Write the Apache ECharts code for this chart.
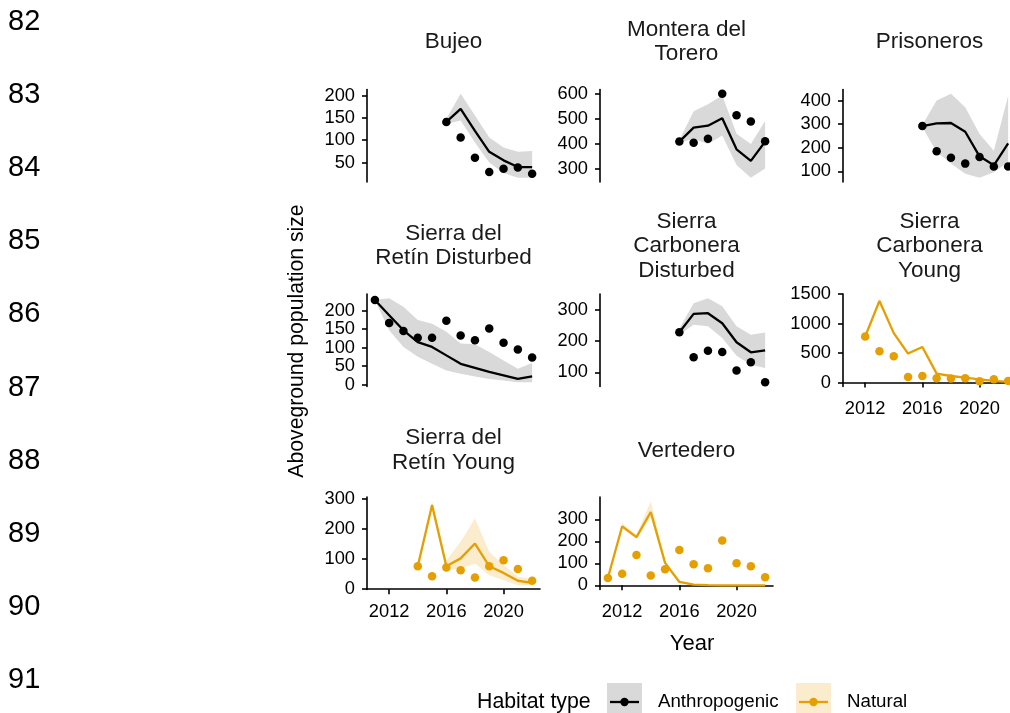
<!DOCTYPE html>
<html>
<head>
<meta charset="utf-8">
<script src="https://cdn.jsdelivr.net/npm/echarts@6/dist/echarts.min.js"></script>
<style>
  html, body { margin: 0; padding: 0; background: #ffffff; }
  #chart { width: 1010px; height: 713px; }
</style>
</head>
<body>
<div id="chart"></div>
<script>
// ---- data -------------------------------------------------------------
const years = [2011, 2012, 2013, 2014, 2015, 2016, 2017, 2018, 2019, 2020, 2021, 2022];
const yearTicks = [2012, 2016, 2020];
const lineNumbers = ['82', '83', '84', '85', '86', '87', '88', '89', '90', '91'];
const habitatTypes = ['Anthropogenic', 'Natural'];

// Bujeo (anthropogenic)
const bujeoObserved = [null, null, null, null, null, 141, 106, 61, 29, 36, 39, 25];
const bujeoFitted   = [null, null, null, null, null, 141, 170, 121, 74, 55, 40, 40];
const bujeoLower    = [null, null, null, null, null, 136, 144, 95, 50, 27, 16, 16];
const bujeoUpper    = [null, null, null, null, null, 148, 204, 155, 106, 84, 74, 76];
const bujeoTicks    = [50, 100, 150, 200];

// Montera del Torero (anthropogenic)
const monteraObserved = [null, null, null, null, null, 408, 403, 419, 600, 514, 489, 409];
const monteraFitted   = [null, null, null, null, null, 408, 464, 472, 502, 377, 331, 408];
const monteraLower    = [null, null, null, null, null, 403, 419, 398, 433, 314, 263, 300];
const monteraUpper    = [null, null, null, null, null, 413, 530, 558, 593, 440, 398, 491];
const monteraTicks    = [300, 400, 500, 600];

// Prisoneros (anthropogenic)
const prisonerosObserved = [null, null, null, null, null, 292, 185, 158, 133, 161, 121, 121];
const prisonerosFitted   = [null, null, null, null, null, 292, 303, 305, 268, 164, 126, 219];
const prisonerosLower    = [null, null, null, null, null, 287, 182, 133, 90, 73, 97, 140];
const prisonerosUpper    = [null, null, null, null, null, 297, 400, 429, 372, 258, 187, 420];
const prisonerosTicks    = [100, 200, 300, 400];

// Sierra del Retín Disturbed (anthropogenic)
const retinDistObserved = [229, 167, 145, 127, 127, 173, 133, 120, 152, 113, 95, 73];
const retinDistFitted   = [229, 188, 147, 115, 102, 79, 56, 45, 34, 25, 15, 22];
const retinDistLower    = [229, 147, 102, 75, 56, 38, 29, 22, 15, 11, 6, 6];
const retinDistUpper    = [229, 234, 211, 175, 165, 143, 111, 109, 88, 65, 43, 58];
const retinDistTicks    = [0, 50, 100, 150, 200];

// Sierra Carbonera Disturbed (anthropogenic)
const carbDistObserved = [null, null, null, null, null, 228, 148, 169, 165, 106, 132, 68];
const carbDistFitted   = [null, null, null, null, null, 228, 287, 289, 257, 196, 164, 170];
const carbDistLower    = [null, null, null, null, null, 220, 252, 247, 210, 153, 124, 114];
const carbDistUpper    = [null, null, null, null, null, 240, 321, 337, 311, 247, 220, 227];
const carbDistTicks    = [100, 200, 300];

// Sierra Carbonera Young (natural)
const carbYoungObserved = [null, 782, 530, 446, 94, 111, 72, 67, 72, 22, 55, 27];
const carbYoungFitted   = [null, 782, 1386, 839, 492, 604, 151, 111, 84, 55, 27, 10];
const carbYoungLower    = [null, 762, 1345, 815, 470, 585, 140, 100, 75, 45, 20, 4];
const carbYoungUpper    = [null, 802, 1432, 865, 515, 625, 162, 122, 94, 65, 35, 18];
const carbYoungTicks    = [0, 500, 1000, 1500];

// Sierra del Retín Young (natural)
const retinYoungObserved = [null, null, null, 76, 43, 72, 63, 39, 76, 96, 67, 28];
const retinYoungFitted   = [null, null, null, 76, 278, 76, 102, 151, 76, 54, 28, 21];
const retinYoungLower    = [null, null, null, 75, 272, 63, 68, 85, 46, 30, 13, 13];
const retinYoungUpper    = [null, null, null, 77, 291, 96, 157, 234, 124, 80, 41, 35];
const retinYoungTicks    = [0, 100, 200, 300];

// Vertedero (natural)
const vertederoObserved = [33, 52, 138, 45, 73, 160, 96, 78, 203, 100, 86, 37];
const vertederoFitted   = [33, 268, 219, 333, 102, 15, 3, 1, 0, 0, 0, 0];
const vertederoLower    = [29, 258, 210, 308, 94, 10, 1, 0, 0, 0, 0, 0];
const vertederoUpper    = [37, 282, 230, 382, 113, 21, 6, 2, 1, 1, 1, 1];
const vertederoTicks    = [0, 100, 200, 300];

// ---- panels -------------------------------------------------------------
const panels = [
  { title: 'Bujeo', habitat: 'Anthropogenic', col: 0, row: 0, showX: false,
    obs: bujeoObserved, fit: bujeoFitted, lo: bujeoLower, hi: bujeoUpper, ticks: bujeoTicks },
  { title: 'Montera del\nTorero', habitat: 'Anthropogenic', col: 1, row: 0, showX: false,
    obs: monteraObserved, fit: monteraFitted, lo: monteraLower, hi: monteraUpper, ticks: monteraTicks },
  { title: 'Prisoneros', habitat: 'Anthropogenic', col: 2, row: 0, showX: false,
    obs: prisonerosObserved, fit: prisonerosFitted, lo: prisonerosLower, hi: prisonerosUpper, ticks: prisonerosTicks },
  { title: 'Sierra del\nRetín Disturbed', habitat: 'Anthropogenic', col: 0, row: 1, showX: false,
    obs: retinDistObserved, fit: retinDistFitted, lo: retinDistLower, hi: retinDistUpper, ticks: retinDistTicks },
  { title: 'Sierra\nCarbonera\nDisturbed', habitat: 'Anthropogenic', col: 1, row: 1, showX: false,
    obs: carbDistObserved, fit: carbDistFitted, lo: carbDistLower, hi: carbDistUpper, ticks: carbDistTicks },
  { title: 'Sierra\nCarbonera\nYoung', habitat: 'Natural', col: 2, row: 1, showX: true,
    obs: carbYoungObserved, fit: carbYoungFitted, lo: carbYoungLower, hi: carbYoungUpper, ticks: carbYoungTicks },
  { title: 'Sierra del\nRetín Young', habitat: 'Natural', col: 0, row: 2, showX: true,
    obs: retinYoungObserved, fit: retinYoungFitted, lo: retinYoungLower, hi: retinYoungUpper, ticks: retinYoungTicks },
  { title: 'Vertedero', habitat: 'Natural', col: 1, row: 2, showX: true,
    obs: vertederoObserved, fit: vertederoFitted, lo: vertederoLower, hi: vertederoUpper, ticks: vertederoTicks }
];

// ---- layout & style -----------------------------------------------------
const FONT = "'Liberation Sans', Arial, Helvetica, sans-serif";
const colLeft = [367, 600, 843];
const rowTop = [89.5, 294, 497];
const stripMidY = [42, 246, 450.5];
const panelW = 173;
const panelH = 92.5;
const habitatStyle = {
  Anthropogenic: { line: '#000000', band: '#d9d9d9' },
  Natural: { line: '#E69F00', band: 'rgba(230,159,0,0.2)' }
};
const xPad = (years[years.length - 1] - years[0]) * 0.05;

function pairs(values) {
  const out = [];
  values.forEach((v, i) => { if (v != null) out.push([years[i], v]); });
  return out;
}
function bandRows(lo, hi) {
  const out = [];
  lo.forEach((v, i) => { if (v != null && hi[i] != null) out.push([years[i], v, hi[i]]); });
  return out;
}
function paddedRange(arrays) {
  const vals = [].concat(...arrays).filter(v => v != null);
  const mn = Math.min(...vals), mx = Math.max(...vals);
  const pad = (mx - mn) * 0.05;
  return [mn - pad, mx + pad];
}

const axisLineStyle = { color: '#000000', width: 1.6 };
const tickLabel = { color: '#000000', fontSize: 18.3, fontFamily: FONT };

const grid = [], xAxis = [], yAxis = [], series = [], graphic = [];

panels.forEach((p, i) => {
  const left = colLeft[p.col];
  const top = rowTop[p.row];
  const style = habitatStyle[p.habitat];
  const [ymin, ymax] = paddedRange([p.obs, p.fit, p.lo, p.hi]);

  grid.push({ left: left, top: top, width: panelW, height: panelH, containLabel: false, outerBoundsMode: 'none' });

  xAxis.push({
    gridIndex: i, type: 'value', show: p.showX,
    min: years[0] - xPad, max: years[years.length - 1] + xPad,
    axisLine: { show: true, lineStyle: axisLineStyle },
    axisTick: { show: true, length: 5, customValues: yearTicks, lineStyle: axisLineStyle },
    axisLabel: Object.assign({ customValues: yearTicks, margin: 13, formatter: v => String(v) }, tickLabel),
    splitLine: { show: false }
  });

  yAxis.push({
    gridIndex: i, type: 'value', min: ymin, max: ymax,
    axisLine: { show: true, lineStyle: axisLineStyle },
    axisTick: { show: true, length: 5, customValues: p.ticks, lineStyle: axisLineStyle },
    axisLabel: Object.assign({ customValues: p.ticks, margin: 12, formatter: v => String(v) }, tickLabel),
    splitLine: { show: false }
  });

  const band = bandRows(p.lo, p.hi);
  series.push({
    type: 'custom', xAxisIndex: i, yAxisIndex: i, z: 1, silent: true,
    data: band,
    encode: { x: 0, y: [1, 2] },
    renderItem: (params, api) => {
      if (params.dataIndex !== 0) return null;
      const upper = band.map(d => api.coord([d[0], d[2]]));
      const lower = band.map(d => api.coord([d[0], d[1]])).reverse();
      return { type: 'polygon', shape: { points: upper.concat(lower) }, style: { fill: style.band } };
    }
  });
  series.push({
    type: 'line', xAxisIndex: i, yAxisIndex: i, z: 3,
    data: pairs(p.fit), symbol: 'none', showSymbol: false,
    lineStyle: { color: style.line, width: 2.3 }
  });
  series.push({
    type: 'scatter', xAxisIndex: i, yAxisIndex: i, z: 4,
    data: pairs(p.obs), symbol: 'circle', symbolSize: 8.5,
    itemStyle: { color: style.line, opacity: 1 }
  });

  // facet strip label
  graphic.push({
    type: 'text', x: left + panelW / 2, y: stripMidY[p.row], silent: true,
    style: { text: p.title, fill: '#1a1a1a', font: '22.5px ' + FONT, align: 'center', verticalAlign: 'middle', lineHeight: 24.5 }
  });
});

// axis titles
graphic.push({
  type: 'text', x: 692, y: 644,
  style: { text: 'Year', fill: '#000000', font: '22px ' + FONT, align: 'center', verticalAlign: 'middle' }
});
graphic.push({
  type: 'text', x: 297, y: 341, rotation: Math.PI / 2,
  style: { text: 'Aboveground population size', fill: '#000000', font: '21.2px ' + FONT, align: 'center', verticalAlign: 'middle' }
});

// legend
graphic.push({
  type: 'text', x: 477, y: 702,
  style: { text: 'Habitat type', fill: '#000000', font: '21.3px ' + FONT, align: 'left', verticalAlign: 'middle' }
});
const legendKeys = [
  { x: 607, textX: 658 },
  { x: 796, textX: 847 }
];
habitatTypes.forEach((h, k) => {
  const key = legendKeys[k];
  const st = habitatStyle[h];
  graphic.push({ type: 'rect', shape: { x: key.x, y: 683, width: 35, height: 36 }, style: { fill: st.band } });
  graphic.push({ type: 'line', shape: { x1: key.x + 3, y1: 702, x2: key.x + 32, y2: 702 }, style: { stroke: st.line, lineWidth: 2.3 } });
  graphic.push({ type: 'circle', shape: { cx: key.x + 17.5, cy: 702, r: 4.2 }, style: { fill: st.line } });
  graphic.push({
    type: 'text', x: key.textX, y: 702,
    style: { text: h, fill: '#000000', font: '18.7px ' + FONT, align: 'left', verticalAlign: 'middle' }
  });
});

// manuscript line numbers
lineNumbers.forEach((n, k) => {
  graphic.push({
    type: 'text', x: 8, y: 22 + k * 73.1,
    style: { text: n, fill: '#000000', font: '29px ' + FONT, align: 'left', verticalAlign: 'middle' }
  });
});

const chart = echarts.init(document.getElementById('chart'), null, { renderer: 'canvas' });
chart.setOption({
  animation: false,
  backgroundColor: '#ffffff',
  grid: grid,
  xAxis: xAxis,
  yAxis: yAxis,
  series: series,
  graphic: graphic
});
</script>
</body>
</html>
